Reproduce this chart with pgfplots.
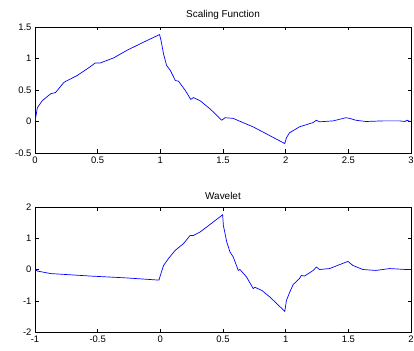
\documentclass[border=0pt]{standalone}
\usepackage{fontspec}
\setmainfont{Liberation Sans}
\usepackage{pgfplots}
\pgfplotsset{compat=1.18}
\pgfplotsset{
  mat/.style={
    scale only axis,
    width=376bp,
    axis line style={black, line width=0.6pt},
    tick align=inside,
    xtick pos=both, ytick pos=both,
    major tick length=3.5bp,
    tick style={black, line width=0.5pt},
    tick label style={font=\fontsize{9.5}{11}\selectfont},
    /pgf/number format/assume math mode=true,
    title style={font=\fontsize{10}{12}\selectfont, yshift=-2bp},
    no markers,
    clip=true,
  }
}
\begin{document}
\begin{tikzpicture}
\useasboundingbox (0,0) rectangle (414bp,351bp);
\begin{axis}[mat, at={(35bp,198bp)}, anchor=south west, height=126bp,
  xmin=0, xmax=3, ymin=-0.5, ymax=1.5,
  xtick={0,0.5,1,1.5,2,2.5,3}, ytick={-0.5,0,0.5,1,1.5},
  title={Scaling Function}]
\addplot[blue, line width=0.7pt] coordinates {
(0,0) (0.019,0.22) (0.058,0.33) (0.125,0.44) (0.164,0.46) (0.23,0.62) (0.257,0.65)
(0.337,0.73) (0.416,0.835) (0.482,0.93) (0.522,0.93) (0.628,1.01) (0.734,1.13)
(0.867,1.26) (0.994,1.38) (1.005,1.29) (1.026,1.07) (1.05,0.89) (1.08,0.81)
(1.12,0.65) (1.145,0.64) (1.2,0.49) (1.243,0.35) (1.264,0.38) (1.317,0.33)
(1.397,0.20) (1.49,0.02) (1.516,0.06) (1.58,0.05) (1.74,-0.085) (1.85,-0.2)
(1.993,-0.35) (2.006,-0.26) (2.03,-0.18) (2.11,-0.085) (2.22,-0.016) (2.245,0.02)
(2.27,-0.005) (2.38,0.01) (2.48,0.06) (2.51,0.05) (2.56,0.02) (2.64,0.0)
(2.78,0.01) (2.91,0.01) (2.95,0.0) (2.97,0.02) (2.99,0.0) (3.0,0)
};
\end{axis}
\begin{axis}[mat, at={(35bp,19bp)}, anchor=south west, height=125bp,
  xmin=-1, xmax=2, ymin=-2, ymax=2,
  xtick={-1,-0.5,0,0.5,1,1.5,2}, ytick={-2,-1,0,1,2},
  title={Wavelet}]
\addplot[blue, line width=0.7pt] coordinates {
(-1,0) (-0.98,-0.05) (-0.875,-0.13) (-0.557,-0.21) (-0.266,-0.27) (-0.011,-0.34)
(0.0,-0.19) (0.026,0.13) (0.065,0.35) (0.118,0.61) (0.185,0.83) (0.238,1.09)
(0.264,1.09) (0.317,1.2) (0.37,1.36) (0.497,1.75) (0.503,1.41) (0.53,0.88)
(0.556,0.56) (0.582,0.40) (0.622,-0.03) (0.635,0.0) (0.688,-0.24) (0.741,-0.61)
(0.755,-0.57) (0.81,-0.67) (0.874,-0.88) (0.993,-1.34) (1.006,-0.99) (1.033,-0.72)
(1.06,-0.48) (1.11,-0.29) (1.125,-0.19) (1.15,-0.21) (1.22,-0.03) (1.245,0.08)
(1.27,0.0) (1.35,0.03) (1.497,0.26) (1.536,0.13) (1.616,0.0) (1.72,-0.03)
(1.83,0.03) (1.96,0.0) (2.0,0)
};
\end{axis}
\end{tikzpicture}
\end{document}
